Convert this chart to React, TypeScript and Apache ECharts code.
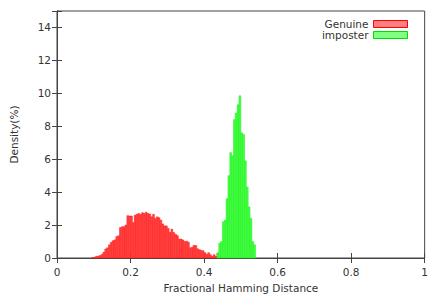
import React, { useEffect, useRef } from "react";
import * as echarts from "echarts";

const binWidth = 0.005;
const genuineStart = 0.095;
const genuineValues = [
  0.03, 0.05, 0.1, 0.12, 0.15, 0.22, 0.35, 0.55, 0.62, 0.8,
  0.95, 1.05, 1.1, 1.3, 1.35, 1.85, 1.9, 1.9, 2.0, 2.57,
  2.55, 2.55, 2.15, 2.6, 2.65, 2.7, 2.65, 2.75, 2.7, 2.78,
  2.7, 2.67, 2.5, 2.65, 2.4, 2.5, 2.45, 2.3, 2.07, 1.95,
  1.95, 1.8, 1.55, 1.75, 1.55, 1.44, 1.36, 1.15, 1.15, 1.1,
  1.0, 1.02, 0.96, 0.62, 0.65, 0.76, 0.76, 0.56, 0.5, 0.46,
  0.44, 0.32, 0.22, 0.32, 0.2, 0.1, 0.2, 0.1, 0.3, 0.15,
];
const imposterStart = 0.435;
const imposterValues = [
  0.3, 0.9, 1.0, 2.2, 2.3, 3.6, 5.0, 6.4, 6.2, 8.4,
  8.8, 9.3, 9.85, 7.6, 7.5, 5.9, 4.3, 3.1, 2.4, 1.0, 0.8,
];
const xTicks = [0, 0.2, 0.4, 0.6, 0.8, 1];
const yTicks = [0, 2, 4, 6, 8, 10, 12, 14];

const toRows = (start: number, vals: number[]) =>
  vals.map((v, i) => [start + i * binWidth, start + (i + 1) * binWidth, v]);

const makeRender = (fill: string, stroke: string) => (params: any, api: any) => {
  const x0 = api.value(0);
  const x1 = api.value(1);
  const y = api.value(2);
  const p0 = api.coord([x0, y]);
  const p1 = api.coord([x1, 0]);
  return {
    type: "rect",
    shape: { x: p0[0], y: p0[1], width: p1[0] - p0[0], height: p1[1] - p0[1] },
    style: { fill, stroke, lineWidth: 0.5 },
  };
};

const FONT = "DejaVu Sans";
const FS = 10.5;
const TXT = "#333";

export default function App() {
  const ref = useRef<HTMLDivElement>(null);
  useEffect(() => {
    if (!ref.current) return;
    const chart = echarts.init(ref.current, undefined, { renderer: "svg" });
    const axisLineStyle = { color: "#444", width: 1 };
    chart.setOption({
      animation: false,
      backgroundColor: "#fff",
      grid: {
        left: 56,
        right: 3,
        top: 11,
        bottom: 35.5,
        show: true,
        borderColor: "#444",
        borderWidth: 1,
        backgroundColor: "transparent",
      },
      legend: {
        orient: "vertical",
        right: 18,
        top: 13,
        align: "right",
        itemWidth: 34,
        itemHeight: 7,
        itemGap: -1,
        icon: "rect",
        textStyle: { fontFamily: FONT, fontSize: FS, color: TXT, lineHeight: 12 },
        data: [
          { name: "Genuine", itemStyle: { color: "#ff8080", borderColor: "#ff0000", borderWidth: 1 } },
          { name: "imposter", itemStyle: { color: "#80ff80", borderColor: "#00dd00", borderWidth: 1 } },
        ],
      },
      xAxis: [
        {
          type: "value",
          min: 0,
          max: 1,
          interval: 0.2,
          name: "Fractional Hamming Distance",
          nameLocation: "middle",
          nameGap: 24,
          nameTextStyle: { fontFamily: FONT, fontSize: FS, color: TXT },
          axisLine: { show: true, lineStyle: axisLineStyle },
          axisTick: { show: true, inside: true, length: 5, lineStyle: axisLineStyle },
          axisLabel: {
            fontFamily: FONT,
            fontSize: FS,
            color: TXT,
            margin: 8,
            formatter: (v: number) => (xTicks.some((t) => Math.abs(t - v) < 1e-9) ? String(v) : ""),
          },
          splitLine: { show: false },
        },
        {
          type: "value",
          position: "top",
          min: 0,
          max: 1,
          interval: 0.2,
          axisLine: { show: true, lineStyle: axisLineStyle },
          axisTick: { show: true, inside: true, length: 5, lineStyle: axisLineStyle },
          axisLabel: { show: false },
          splitLine: { show: false },
        },
      ],
      yAxis: [
        {
          type: "value",
          min: 0,
          max: 15,
          interval: 2,
          name: "Density(%)",
          nameLocation: "middle",
          nameGap: 38,
          nameTextStyle: { fontFamily: FONT, fontSize: FS, color: TXT },
          axisLine: { show: true, lineStyle: axisLineStyle },
          axisTick: { show: true, inside: true, length: 5, lineStyle: axisLineStyle },
          axisLabel: {
            fontFamily: FONT,
            fontSize: FS,
            color: TXT,
            margin: 6,
            formatter: (v: number) => (yTicks.indexOf(v) >= 0 ? String(v) : ""),
          },
          splitLine: { show: false },
        },
        {
          type: "value",
          position: "right",
          min: 0,
          max: 15,
          interval: 2,
          axisLine: { show: true, lineStyle: axisLineStyle },
          axisTick: { show: true, inside: true, length: 5, lineStyle: axisLineStyle },
          axisLabel: { show: false },
          splitLine: { show: false },
        },
      ],
      series: [
        {
          name: "Genuine",
          type: "custom",
          xAxisIndex: 0,
          yAxisIndex: 0,
          itemStyle: { color: "#ff8080" },
          renderItem: makeRender("#ff4444", "#ff1a1a"),
          encode: { x: [0, 1], y: 2 },
          data: toRows(genuineStart, genuineValues),
          z: 2,
        },
        {
          name: "imposter",
          type: "custom",
          xAxisIndex: 0,
          yAxisIndex: 0,
          itemStyle: { color: "#80ff80" },
          renderItem: makeRender("#44ff44", "#1aee1a"),
          encode: { x: [0, 1], y: 2 },
          data: toRows(imposterStart, imposterValues),
          z: 3,
        },
      ],
    });
    return () => chart.dispose();
  }, []);
  return (
    <div
      ref={ref}
      style={{ position: "fixed", left: 0, top: 0, width: 431, height: 298, background: "#fff" }}
    />
  );
}
